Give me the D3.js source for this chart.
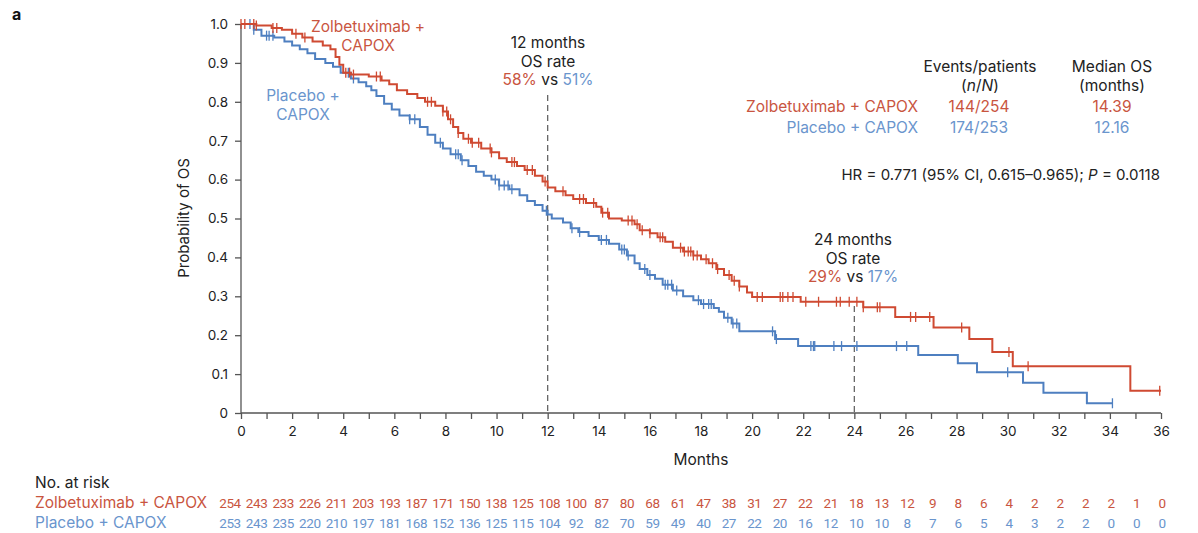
<!DOCTYPE html>
<html>
<head>
<meta charset="utf-8">
<script src="https://cdn.jsdelivr.net/npm/d3@7"></script>
<style>
  body { margin: 0; background: #fff; }
  svg { font-family: Inter, "Noto Sans", sans-serif; }
</style>
</head>
<body>
<div class="kmChart"></div>
<script>
// Kaplan-Meier step points [month, survival]
const zolbSteps = [[0,1.0],[0.6,0.996],[1.2,0.99],[1.6,0.985],[2.0,0.975],[2.4,0.965],[2.8,0.955],[3.2,0.945],[3.5,0.935],[3.7,0.915],[3.85,0.895],[4.0,0.875],[4.3,0.87],[5.0,0.865],[5.5,0.855],[5.8,0.845],[6.1,0.83],[6.5,0.82],[6.9,0.81],[7.2,0.80],[7.6,0.79],[7.9,0.775],[8.1,0.755],[8.3,0.735],[8.5,0.72],[8.7,0.705],[9.0,0.695],[9.4,0.68],[9.8,0.67],[10.1,0.655],[10.4,0.645],[10.8,0.635],[11.1,0.625],[11.5,0.61],[11.8,0.595],[12.0,0.58],[12.3,0.57],[12.7,0.56],[13.0,0.55],[13.5,0.54],[13.9,0.53],[14.1,0.515],[14.4,0.50],[14.9,0.495],[15.4,0.485],[15.6,0.47],[16.0,0.462],[16.3,0.452],[16.6,0.44],[16.9,0.425],[17.3,0.415],[17.7,0.405],[18.0,0.395],[18.3,0.385],[18.6,0.37],[18.9,0.355],[19.2,0.34],[19.5,0.325],[19.8,0.31],[20.0,0.298],[21.9,0.286],[24.35,0.272],[25.6,0.247],[27.1,0.22],[28.5,0.19],[29.4,0.157],[30.2,0.12],[34.8,0.057],[36.0,0.057]];
const placeboSteps = [[0,1.0],[0.5,0.985],[0.8,0.97],[1.3,0.965],[1.7,0.955],[2.0,0.945],[2.3,0.935],[2.6,0.925],[2.9,0.91],[3.3,0.9],[3.6,0.89],[3.9,0.875],[4.3,0.86],[4.6,0.85],[4.9,0.84],[5.1,0.83],[5.3,0.815],[5.6,0.795],[5.9,0.78],[6.2,0.765],[6.6,0.755],[7.0,0.735],[7.3,0.715],[7.6,0.695],[7.9,0.68],[8.2,0.665],[8.6,0.65],[8.9,0.635],[9.2,0.62],[9.5,0.61],[9.8,0.60],[10.1,0.585],[10.5,0.575],[10.9,0.56],[11.2,0.545],[11.5,0.535],[11.8,0.52],[12.0,0.51],[12.16,0.50],[12.6,0.49],[12.9,0.475],[13.2,0.465],[13.6,0.455],[14.0,0.445],[14.4,0.435],[14.8,0.42],[15.1,0.405],[15.4,0.385],[15.6,0.37],[15.9,0.355],[16.2,0.345],[16.5,0.33],[16.9,0.315],[17.3,0.30],[17.7,0.29],[18.0,0.28],[18.5,0.27],[18.7,0.26],[18.9,0.245],[19.2,0.23],[19.5,0.21],[20.9,0.19],[21.8,0.172],[26.5,0.149],[28.05,0.128],[28.8,0.105],[30.6,0.078],[31.4,0.052],[33.1,0.025],[34.1,0.025]];

// censored observations (months)
const zolbCensor = [0.0,0.15,0.5,0.6,1.25,1.4,2.15,2.5,4.1,4.25,4.4,5.3,5.45,7.3,7.45,7.9,8.05,8.2,8.5,8.9,9.05,9.3,9.75,9.8,10.6,10.7,11.2,11.4,11.9,12.6,13.25,13.4,13.8,14.15,14.35,15.15,15.3,15.5,15.7,16.0,16.4,16.5,17.2,17.35,17.5,17.6,17.7,17.85,18.2,18.45,18.65,19.1,19.3,19.5,20.2,20.4,21.1,21.2,21.4,21.6,22.1,22.6,23.3,23.45,23.8,24.1,24.35,24.9,25.0,26.2,26.4,26.95,28.2,30.05,30.8,35.95];
const placeboCensor = [0.35,0.5,1.0,1.1,1.25,4.2,4.4,6.6,6.8,7.8,8.4,8.5,8.65,9.95,10.1,10.3,10.45,10.6,11.95,12.95,13.25,14.1,14.3,14.9,15.0,15.15,15.8,16.0,16.6,16.7,16.85,17.05,17.9,18.1,18.3,18.4,19.05,19.25,19.4,20.8,20.95,22.3,22.4,22.45,23.2,23.5,24.1,25.65,26.05,30.0,34.1];

const riskMonths = d3.range(0, 37);
const zolbRisk = [254,243,233,226,211,203,193,187,171,150,138,125,108,100,87,80,68,61,47,38,31,27,22,21,18,13,12,9,8,6,4,2,2,2,2,1,0];
const placeboRisk = [253,243,235,220,210,197,181,168,152,136,125,115,104,92,82,70,59,49,40,27,22,20,16,12,10,10,8,7,6,5,4,3,2,2,0,0,0];

const yTicks = d3.range(0, 11).map(d => d / 10);
const xTicks = d3.range(0, 37);

const redLine = "#cf4a32", blueLine = "#4e7fc0";
const redText = "#c9553f", blueText = "#6a95cd";
const fs = 15.5;

const svg = d3.select(".kmChart").append("svg")
    .attr("width", 1198).attr("height", 533);

const x = d3.scaleLinear().domain([0, 36]).range([241, 1161]);
const y = d3.scaleLinear().domain([0, 1]).range([413, 24]);

// panel letter
svg.append("text").text("a").attr("x", 12).attr("y", 20)
    .attr("font-size", 16).attr("font-weight", "bold").attr("fill", "#111");

// y axis
const yAxis = svg.append("g").attr("transform", "translate(241,0)")
    .call(d3.axisLeft(y).tickValues(yTicks).tickSize(6).tickPadding(7)
        .tickFormat(d => d === 0 ? "0" : d3.format(".1f")(d)));
yAxis.selectAll("text").attr("font-size", 13.5).attr("fill", "#222")
    .attr("font-family", "Inter, sans-serif");
yAxis.selectAll("line, path").attr("stroke", "#555").attr("stroke-width", 1.3);
yAxis.select(".domain").attr("d", `M0,${y(0)}V${y(1)}`);

// x axis
const xAxis = svg.append("g").attr("transform", `translate(0,${y(0)})`)
    .call(d3.axisBottom(x).tickValues(xTicks).tickSize(6).tickPadding(7)
        .tickFormat(d => d % 2 === 0 ? d : ""));
xAxis.selectAll("text").attr("font-size", 13.5).attr("fill", "#222")
    .attr("font-family", "Inter, sans-serif");
xAxis.selectAll("line, path").attr("stroke", "#555").attr("stroke-width", 1.3);
xAxis.select(".domain").attr("d", `M${x(0)},0H${x(36)}`);

svg.append("text").text("Months").attr("x", 701).attr("y", 465)
    .attr("text-anchor", "middle").attr("font-size", fs).attr("fill", "#222");
svg.append("text").text("Probability of OS")
    .attr("transform", "translate(189,218) rotate(-90)")
    .attr("text-anchor", "middle").attr("font-size", 15).attr("fill", "#222");

// landmark dashed lines
const marks = [{t: 12, top: 95}, {t: 24, top: 306}];
svg.selectAll(".landmark").data(marks).join("line")
    .attr("x1", d => x(d.t)).attr("x2", d => x(d.t))
    .attr("y1", d => d.top).attr("y2", y(0))
    .attr("stroke", "#666").attr("stroke-width", 1.3).attr("stroke-dasharray", "6,4");

// curves
const line = d3.line().x(d => x(d[0])).y(d => y(d[1])).curve(d3.curveStepAfter);
const series = [
    {steps: placeboSteps, censor: placeboCensor, color: blueLine},
    {steps: zolbSteps, censor: zolbCensor, color: redLine}
];
const bis = d3.bisector(d => d[0]).right;
function survAt(steps, t){
    return steps[Math.max(0, bis(steps, t) - 1)][1];
}
for(const s of series){
    svg.append("path").datum(s.steps).attr("d", line)
        .attr("fill", "none").attr("stroke", s.color).attr("stroke-width", 2);
    svg.append("g").selectAll("line").data(s.censor).join("line")
        .attr("x1", d => x(d)).attr("x2", d => x(d))
        .attr("y1", d => y(survAt(s.steps, d)) - 5)
        .attr("y2", d => y(survAt(s.steps, d)) + 5)
        .attr("stroke", s.color).attr("stroke-width", 1.3);
}

// curve labels
function lines(txt, cx, y0, color){
    txt.forEach((t, i) => svg.append("text").text(t).attr("x", cx).attr("y", y0 + i * 18.5)
        .attr("text-anchor", "middle").attr("font-size", fs).attr("fill", color));
}
lines(["Zolbetuximab +", "CAPOX"], 368, 32, redText);
lines(["Placebo +", "CAPOX"], 303, 101, blueText);

// landmark annotations
function rateNote(cx, y0, label, a, b){
    lines([label, "OS rate"], cx, y0, "#222");
    const t = svg.append("text").attr("x", cx).attr("y", y0 + 37)
        .attr("text-anchor", "middle").attr("font-size", fs);
    t.append("tspan").text(a).attr("fill", redText);
    t.append("tspan").text(" vs ").attr("fill", "#222");
    t.append("tspan").text(b).attr("fill", blueText);
}
rateNote(548, 48, "12 months", "58%", "51%");
rateNote(853, 245, "24 months", "29%", "17%");

// summary table
const tableRows = [
    {label: "Zolbetuximab + CAPOX", events: "144/254", median: "14.39", color: redText},
    {label: "Placebo + CAPOX", events: "174/253", median: "12.16", color: blueText}
];
lines(["Events/patients"], 980, 72, "#222");
lines(["Median OS", "(months)"], 1112, 72, "#222");
const nN = svg.append("text").attr("x", 980).attr("y", 90.5)
    .attr("text-anchor", "middle").attr("font-size", fs).attr("fill", "#222");
nN.append("tspan").text("(");
nN.append("tspan").text("n").attr("font-style", "italic");
nN.append("tspan").text("/");
nN.append("tspan").text("N").attr("font-style", "italic");
nN.append("tspan").text(")");
tableRows.forEach((r, i) => {
    const yy = 112 + i * 20.5;
    svg.append("text").text(r.label).attr("x", 918).attr("y", yy)
        .attr("text-anchor", "end").attr("font-size", fs).attr("fill", r.color);
    svg.append("text").text(r.events).attr("x", 979).attr("y", yy)
        .attr("text-anchor", "middle").attr("font-size", fs).attr("fill", r.color);
    svg.append("text").text(r.median).attr("x", 1112).attr("y", yy)
        .attr("text-anchor", "middle").attr("font-size", fs).attr("fill", r.color);
});
const hr = svg.append("text").attr("x", 1160).attr("y", 180)
    .attr("text-anchor", "end").attr("font-size", 15).attr("fill", "#222");
hr.append("tspan").text("HR = 0.771 (95% CI, 0.615\u20130.965); ");
hr.append("tspan").text("P").attr("font-style", "italic");
hr.append("tspan").text(" = 0.0118");

// number at risk
svg.append("text").text("No. at risk").attr("x", 35).attr("y", 488)
    .attr("font-size", fs).attr("fill", "#222");
const riskX = d3.scaleLinear().domain([0, 13, 36]).range([230, 576, 1162]);
const riskRows = [
    {label: "Zolbetuximab + CAPOX", vals: zolbRisk, color: redText},
    {label: "Placebo + CAPOX", vals: placeboRisk, color: blueText}
];
riskRows.forEach((r, i) => {
    const yy = 508 + i * 20;
    svg.append("text").text(r.label).attr("x", 35).attr("y", yy)
        .attr("font-size", fs).attr("fill", r.color);
    svg.append("g").selectAll("text").data(r.vals).join("text")
        .text(d => d)
        .attr("x", (d, j) => riskX(riskMonths[j])).attr("y", yy)
        .attr("text-anchor", "middle").attr("font-size", 13.5)
        .attr("font-family", "Roboto, sans-serif").attr("letter-spacing", "-0.4")
        .attr("fill", r.color);
});
</script>
</body>
</html>
